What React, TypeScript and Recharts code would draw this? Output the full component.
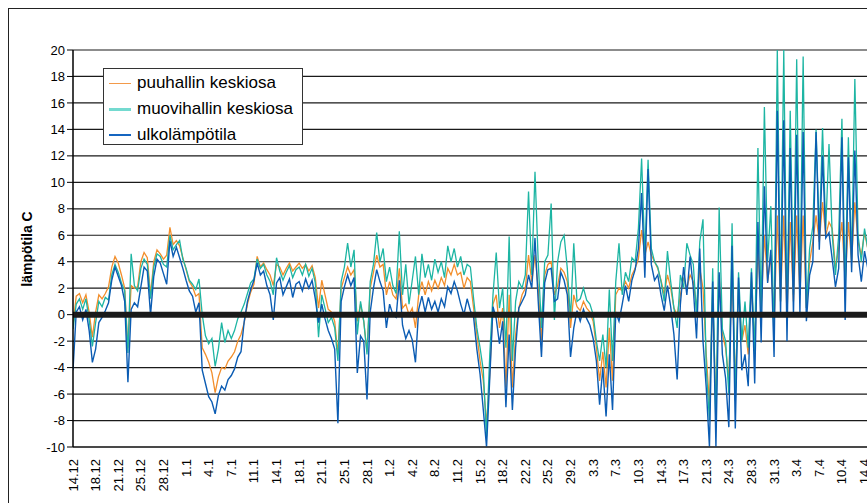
import {
  LineChart,
  Line,
  XAxis,
  YAxis,
  CartesianGrid,
  ReferenceLine,
} from "recharts";

// date labels, one every 3.5 days (7 half-day samples)
const tickLabels = [
  "14.12", "18.12", "21.12", "25.12", "28.12", "1.1", "4.1", "7.1", "11.1",
  "14.1", "18.1", "21.1", "25.1", "28.1", "1.2", "4.2", "8.2", "11.2", "15.2",
  "18.2", "22.2", "25.2", "29.2", "3.3", "7.3", "10.3", "14.3", "17.3", "21.3",
  "24.3", "28.3", "31.3", "3.4", "7.4", "10.4", "14.4",
];

const seriesNames = ["puuhallin keskiosa", "muovihallin keskiosa", "ulkolämpötila"];

// half-day samples from 14.12 onwards
const ulko = [
  -4.2, 0.2, 0.6, -0.4, 0.4, -1.2, -3.6, -2.6, -0.6, -0.2,
  0.3, 0.9, 2.6, 3.6, 2.9, 2.2, 1.0, -5.1, 0.4, 0.9,
  0.6, 2.1, 3.6, 3.3, 0.0, 2.9, 4.2, 3.9, 3.1, 2.3,
  5.6, 4.4, 5.1, 4.3, 3.5, 2.6, 1.8, 1.4, 0.2, 0.9,
  -4.2, -5.2, -6.2, -6.6, -7.5, -6.1, -5.4, -5.7, -4.9, -4.6,
  -4.1, -3.2, -2.8, -0.5, 1.0, 1.9, 2.6, 3.9, 3.0, 3.3,
  2.2, 1.5, -0.4, 2.4, 2.8, 1.5, 2.1, 2.7, 1.3, 2.3,
  2.5, 1.8, 2.7, 2.0, 2.6, 1.2, -0.6, 0.8, -0.3, -1.2,
  -1.8, -2.6, -8.2, 1.0, 2.1, 3.0, 2.2, 2.8, -4.4, -1.6,
  -2.0, -6.4, 0.2, 2.0, 3.4, 2.5, 1.8, -1.0, 0.8, 0.0,
  -0.2, 2.6, -0.8, -1.8, -1.2, -1.9, -3.6, 0.4, 1.4, 0.2,
  1.3, 0.4, 1.0, 0.2, 1.2, 0.6, 2.1, 1.6, 2.5, 1.8,
  0.8, 0.0, 1.2, 0.3, -0.2, -2.6, -4.5, -7.2, -10.0, -4.8,
  0.6, -0.3, -2.2, -0.5, -7.0, -1.5, -7.2, -2.5, 0.5, 1.0,
  1.5, 3.0, 2.0, 5.8, 1.0, -3.2, 2.4, 3.4, 3.5, 1.0,
  1.2, 3.2, 2.6, 1.5, -3.2, -1.0, 0.3, -0.5, 0.4, -0.3,
  -0.8, -1.8, -3.5, -6.8, -4.0, -7.7, -3.0, -7.2, 0.2, -0.5,
  0.8, 2.2, 1.0, 2.6, 3.4, 5.0, 9.2, 2.8, 11.0, 3.8,
  2.6, 3.0, 1.5, 0.3, 2.2, 0.6, -1.5, -4.9, 0.8, 3.6,
  1.5, 4.4, 2.0, -1.8, 5.0, -2.0, -5.5, -10.0, 2.5, -10.0,
  3.2, -3.0, -4.8, -8.5, 5.2, -8.6, 2.8, -4.2, -3.0, -5.4,
  3.2, -5.2, 7.0, -2.1, 9.7, 2.4, 4.9, -3.2, 15.4, 0.0,
  14.7, -2.0, 12.6, 0.0, 13.6, 0.2, 13.8, -0.5, 3.0, 4.0,
  13.8, 4.9, 12.0, 5.8, 6.2, 4.2, 2.1, 3.5, 13.4, -0.4,
  11.9, 3.2, 12.4, 4.5, 2.5, 4.8, 3.5,
];

const muovi = [
  -1.1, 0.8, 1.2, 0.4, 1.2, -0.4, -2.4, -0.6, 1.0, 0.6,
  1.3, 1.1, 3.0, 3.8, 3.2, 2.4, 1.8, -2.9, 4.6, 2.2,
  1.8, 3.5, 4.2, 3.8, 1.2, 3.6, 4.6, 4.4, 3.8, 3.6,
  6.0, 4.9, 5.3, 5.6, 4.2, 3.5, 2.6, 2.3, 1.9, 2.7,
  0.0, -1.6, -2.2, -1.8, -3.9, -2.6, -0.6, -2.1, -1.2, -1.8,
  -1.2, -0.3, 0.2, 0.8, 1.6, 2.4, 2.7, 4.2, 3.5, 3.8,
  3.0, 2.5, 1.5, 4.3, 3.3, 2.6, 3.2, 3.7, 2.8, 3.4,
  3.6, 3.0, 3.8, 2.9, 3.5, 2.4, -1.7, 1.5, 0.5, -0.6,
  -0.2, -1.0, -3.5, 2.5, 3.6, 5.4, 3.6, 4.9, -1.5, 1.0,
  -0.5, -3.0, 2.5, 3.8, 6.2, 4.0, 5.0, 2.5, 3.6, 2.2,
  1.6, 6.3, 1.5, 3.8, 0.8, 2.6, 4.4, 1.5, 4.6, 2.8,
  3.8, 2.6, 4.2, 3.2, 4.0, 2.8, 5.2, 4.0, 5.0, 3.6,
  4.4, 3.0, 3.8, 3.6, 1.2, -1.0, -2.5, -4.2, -9.2, -3.0,
  1.5, 4.7, 0.5, 2.0, -2.5, 5.9, -3.5, 1.0, 2.5, 2.0,
  3.0, 9.3, 3.0, 10.8, 4.0, -1.0, 4.0, 4.5, 8.4, -0.4,
  4.0, 5.5, 6.0, 3.5, -0.3, 5.4, 1.0, 1.2, 2.0, 1.1,
  0.8, 0.0, -2.0, -3.5, -1.5, -4.0, 1.9, -3.5, 2.5, 5.4,
  1.5, 3.2, 2.5, 4.3, 4.0, 6.5, 11.8, 4.5, 11.7, 5.0,
  4.0, 3.6, 2.5, 1.0, 4.8, 2.5, 0.5, -1.0, 3.0, 2.0,
  5.4, 4.5, 3.8, 0.0, 5.5, 7.2, -4.0, -8.0, 3.5, -8.5,
  8.1, -1.1, -2.0, -6.0, 6.9, -6.5, 3.2, -2.0, 1.0, -2.5,
  3.5, -3.0, 12.6, 0.0, 15.7, 4.0, 8.2, -1.5, 20.0, 1.0,
  20.0, 0.0, 15.4, 1.5, 19.3, 1.5, 19.5, 0.5, 5.0, 6.7,
  14.0, 6.0, 14.1, 6.5, 12.9, 6.0, 3.0, 6.0, 14.8, 2.0,
  13.4, 4.0, 17.8, 6.0, 4.0, 6.5, 5.0,
];

const puu = [
  -0.8, 1.4, 1.6, 0.9, 1.5, 0.2, -1.7, 0.2, 1.5, 1.2,
  1.6, 2.1, 3.6, 4.4, 3.9, 3.0, 2.0, -2.5, 2.2, 2.0,
  2.1, 4.0, 4.7, 4.3, 1.5, 4.0, 4.9, 4.6, 4.2, 4.5,
  6.6, 5.3, 5.6, 5.2, 4.3, 3.4, 2.5, 2.1, 1.4, 1.6,
  -2.5, -3.0, -3.6, -4.4, -5.9, -4.7, -4.0, -4.1, -3.5, -3.2,
  -2.8, -2.0, -1.5, -0.6, 0.8, 1.7, 2.3, 4.4, 3.6, 3.9,
  3.4, 3.0, 2.2, 3.8, 3.6, 3.0, 3.5, 3.9, 3.3, 3.6,
  3.9, 3.5, 3.8, 3.3, 3.7, 2.8, 0.5, 2.6, 1.5, 0.4,
  0.2, -0.5, -3.0, 2.0, 2.8, 3.6, 3.0, 3.4, -0.5, 0.8,
  -0.5, -2.8, 2.0, 3.2, 4.5, 3.6, 3.8, 1.5, 2.5, 1.5,
  1.2, 3.5, 0.5, 0.8, 0.0, 0.5, -1.0, 1.5, 2.5, 1.5,
  2.5, 1.8, 2.6, 2.0, 2.8, 2.2, 3.5, 3.0, 3.8, 3.0,
  3.2, 2.0, 2.8, 2.5, 0.5, -1.5, -3.5, -5.0, -8.3, -4.5,
  0.8, 1.5, -1.0, 0.5, -5.5, 1.5, -5.5, -1.5, 0.5, 1.5,
  2.0, 4.5, 2.5, 4.5, 2.0, -2.0, 3.0, 3.8, 4.0, 1.5,
  2.2, 3.5, 3.2, 2.5, -1.0, 1.5, 0.6, 0.3, 1.0, 0.5,
  0.2, -0.5, -2.5, -5.0, -2.8, -5.5, -1.0, -5.0, 1.5, 2.0,
  1.8, 2.5, 2.0, 3.0, 3.5, 4.2, 6.4, 4.5, 5.5, 4.5,
  4.0, 3.5, 2.6, 1.5, 3.0, 2.0, 0.5, 0.0, 1.5, 2.8,
  2.0, 3.0, 2.5, 0.5, 3.5, 2.0, -3.0, -6.8, 1.5, -7.0,
  3.0, -1.5, -2.5, -5.0, 3.5, -5.5, 2.0, -2.0, -0.8, -3.0,
  2.5, -2.5, 5.0, 0.5, 6.0, 2.5, 4.5, -1.0, 7.5, 1.0,
  7.5, 0.0, 7.0, 1.0, 7.5, 1.5, 7.5, 0.5, 4.0, 5.5,
  7.5, 5.5, 8.5, 6.0, 7.0, 6.5, 3.5, 5.0, 7.0, 2.5,
  7.0, 4.0, 8.5, 5.5, 4.5, 6.2, 5.0,
];

const FONT = '"Liberation Sans", Arial, Helvetica, sans-serif';

const chartData = ulko.map((v, i) => ({
  i,
  puu: puu[i],
  muovi: muovi[i],
  ulko: v,
}));

const xTicks = tickLabels.map((_, k) => k * 7);
const yTicks = [-10, -8, -6, -4, -2, 0, 2, 4, 6, 8, 10, 12, 14, 16, 18, 20];

// rotated date label under the axis
const DateTick = ({ x, y, payload }: any) => {
  const label = tickLabels[Math.round(payload.value / 7)];
  const oy = y + 10;
  return (
    <text
      x={x}
      y={oy}
      dy={4.5}
      transform={`rotate(-90 ${x} ${oy})`}
      textAnchor="end"
      fontSize={13}
      fontFamily={FONT}
      fill="#000"
    >
      {label}
    </text>
  );
};

const legendStyles = [
  { color: "#F39A4A", width: 1.2 },
  { color: "#74DAD0", width: 3 },
  { color: "#1565C0", width: 2 },
];

// Excel-style legend box drawn over the plot
const LegendBox = () => (
  <div
    style={{
      position: "absolute",
      left: 103,
      top: 68,
      width: 200,
      height: 77,
      boxSizing: "border-box",
      border: "1px solid #333",
      background: "#fff",
      paddingTop: 1,
      fontFamily: FONT,
      fontSize: 17,
      color: "#000",
    }}
  >
    {seriesNames.map((name, k) => (
      <div
        key={name}
        style={{ height: 26, display: "flex", alignItems: "center" }}
      >
        <span
          style={{
            display: "inline-block",
            marginLeft: 5,
            width: 22,
            height: 0,
            borderTop: `${legendStyles[k].width}px solid ${legendStyles[k].color}`,
          }}
        />
        <span style={{ marginLeft: 6, whiteSpace: "nowrap", lineHeight: "20px" }}>
          {name}
        </span>
      </div>
    ))}
  </div>
);

export default function App() {
  return (
    <div
      style={{
        position: "fixed",
        left: 0,
        top: 0,
        width: 867,
        height: 503,
        overflow: "hidden",
        background: "#fff",
      }}
    >
      <div
        style={{
          position: "absolute",
          left: 8,
          top: 8,
          width: 1000,
          height: 600,
          border: "1px solid #222",
        }}
      />
      <div style={{ position: "absolute", left: 0, top: 0 }}>
        <LineChart
          width={871}
          height={503}
          data={chartData}
          margin={{ top: 50, right: 0, left: 13, bottom: 6 }}
        >
          <CartesianGrid
            horizontal
            vertical={false}
            stroke="#1a1a1a"
            strokeWidth={1.2}
          />
          <XAxis
            type="number"
            dataKey="i"
            domain={[0, 247]}
            ticks={xTicks}
            interval={0}
            allowDataOverflow
            height={50}
            tickLine={false}
            tickSize={0}
            axisLine={{ stroke: "#333", strokeWidth: 1.5 }}
            tick={<DateTick />}
          />
          <YAxis
            type="number"
            domain={[-10, 20]}
            ticks={yTicks}
            interval={0}
            width={60}
            tickSize={6}
            tickMargin={2}
            axisLine={{ stroke: "#000", strokeWidth: 1.5 }}
            tickLine={{ stroke: "#000" }}
            tick={{ fontSize: 13, fontFamily: FONT, fill: "#000" }}
            label={{
              content: () => (
                <text
                  x={32}
                  y={249}
                  transform="rotate(-90 32 249)"
                  textAnchor="middle"
                  fontSize={14}
                  fontWeight="bold"
                  fontFamily={FONT}
                  fill="#000"
                >
                  lämpötila C
                </text>
              ),
            }}
          />
          <Line
            type="linear"
            dataKey="puu"
            name={seriesNames[0]}
            stroke="#F28E2B"
            strokeWidth={1.3}
            dot={false}
            isAnimationActive={false}
          />
          <Line
            type="linear"
            dataKey="muovi"
            name={seriesNames[1]}
            stroke="#1DB5A3"
            strokeWidth={1.3}
            dot={false}
            isAnimationActive={false}
          />
          <Line
            type="linear"
            dataKey="ulko"
            name={seriesNames[2]}
            stroke="#0B5CB3"
            strokeWidth={1.4}
            dot={false}
            isAnimationActive={false}
          />
          <ReferenceLine y={0} stroke="#1a1a1a" strokeWidth={6} />
        </LineChart>
      </div>
      <LegendBox />
    </div>
  );
}
